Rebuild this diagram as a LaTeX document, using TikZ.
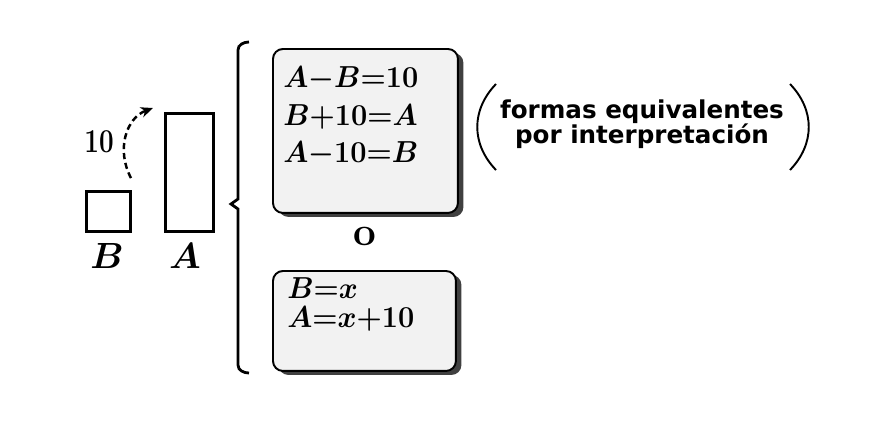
\documentclass[tikz,border=0pt]{standalone}
\usepackage{fontspec}
\newfontfamily\notefont{DejaVu Sans}
\usetikzlibrary{arrows.meta,shadows}

\tikzset{
  bar/.style={line width=1.7pt},
  eqbox/.style={draw, line width=1.1pt, rounded corners=0.2cm, fill=black!5, inner sep=0pt,
    anchor=north west,
    drop shadow={shadow xshift=0.11cm, shadow yshift=-0.08cm, fill=black!75, opacity=1}},
  eqline/.style={anchor=base west, inner sep=0pt, xscale=0.95, font=\fontsize{19}{22}\selectfont\boldmath},
  letter/.style={anchor=base, inner sep=0pt, font=\fontsize{21}{24}\selectfont\boldmath},
}

\begin{document}
\begin{tikzpicture}[x=0.02cm, y=-0.02cm]
  \useasboundingbox (0,0) rectangle (874,424);

  % Bars B and A
  \node[bar, draw, inner sep=0pt, anchor=north west, minimum width=0.88cm, minimum height=0.8cm] (barB) at (85,190) {};
  \node[bar, draw, inner sep=0pt, anchor=north west, minimum width=0.96cm, minimum height=2.36cm] (barA) at (164,112) {};
  \node[letter] (labelB) at (107,268) {$B$};
  \node[letter] (labelA) at (185,268) {$A$};

  % Dashed arrow with difference 10
  \coordinate (diffstart) at (131,178);
  \coordinate (diffend) at (153,108);
  \draw [line width=1.4pt, dash pattern=on 3.5pt off 2.2pt, -{Stealth[length=7pt,width=6pt]}]
    (diffstart) .. controls (116,150) and (126,118) .. (diffend);
  \node[anchor=base, inner sep=0pt, xscale=0.78, font=\fontsize{19}{22}\selectfont\bfseries] (difflabel) at (99,152) {10};

  % Drawing brace
  \coordinate (bracetop) at (249,42);
  \coordinate (bracetip) at (231,204);
  \coordinate (bracebot) at (249,373);
  \draw [line width=1.6pt] (bracetop) to[out=180,in=90] (238,50) -- (238,199) -- (bracetip)
    -- (238,209) -- (238,365) to[out=-90,in=180] (bracebot);

  % Box with the three equations
  \node[eqbox, minimum width=3.7cm, minimum height=3.28cm] (boxtop) at (272,48) {};
  \node[eqline] (eqone) at (283,87) {$A{-}B{=}10$};
  \node[eqline] (eqtwo) at (283,125) {$B{+}10{=}A$};
  \node[eqline] (eqthree) at (283,162) {$A{-}10{=}B$};

  % Or
  \node[anchor=base, inner sep=0pt, font=\fontsize{23}{26}\selectfont\bfseries] (orword) at (365,245) {o};

  % Box with the unknown x
  \node[eqbox, minimum width=3.66cm, minimum height=2.0cm] (boxbot) at (272,270) {};
  \node[eqline] (eqfour) at (287,298) {$B{=}x$};
  \node[eqline] (eqfive) at (287,327) {$A{=}x{+}10$};

  % Note in parentheses
  \node[inner sep=0pt, align=center, font=\notefont\bfseries\fontsize{14}{14.2}\selectfont] (note) at (642,124)
    {formas equivalentes\\por interpretación};
  \coordinate (lparentop) at (496,84);
  \coordinate (lparenbot) at (496,170);
  \coordinate (rparentop) at (790,84);
  \coordinate (rparenbot) at (790,170);
  \draw [line width=1.1pt] (lparentop) .. controls (471,110) and (471,144) .. (lparenbot);
  \draw [line width=1.1pt] (rparentop) .. controls (815,110) and (815,144) .. (rparenbot);
\end{tikzpicture}
\end{document}
